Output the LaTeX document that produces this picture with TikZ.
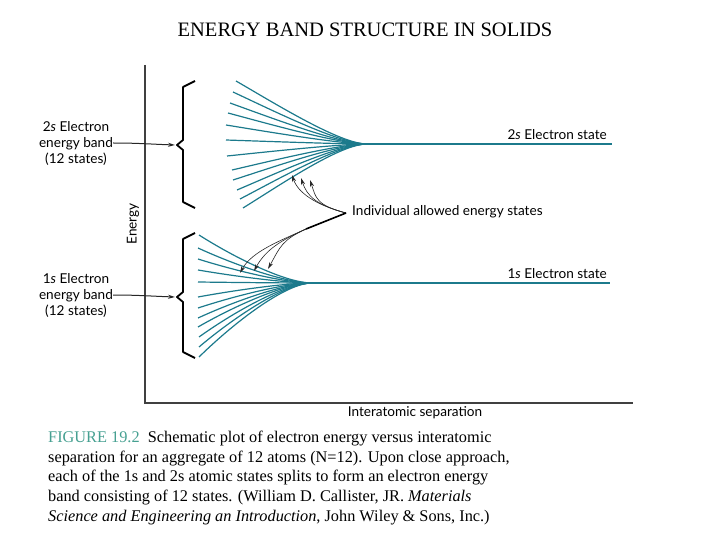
\documentclass[tikz,border=0pt]{standalone}
\usepackage{fontspec}
\setmainfont{Liberation Serif}
\setsansfont{Lato}
\usetikzlibrary{arrows.meta}
\definecolor{bandteal}{RGB}{28,122,140}
\definecolor{figgreen}{RGB}{70,160,145}

\begin{document}
\begin{tikzpicture}[
        x=1pt, y=-1pt,
        every node/.style = {
            inner sep=0pt,
            font=\sffamily\fontsize{13.6}{16}\selectfont
        },
        band/.style = {draw=bandteal, line width=1.2pt},
        bracket/.style = {draw=black, line width=1.8pt, line join=round},
        axis/.style = {draw=black!75, line width=1.2pt},
        pointer/.style = {-{Stealth[length=7pt,width=4pt]}, draw=black!85, line width=0.6pt},
        feeder/.style = {draw=black, line width=1.6pt},
        caption/.style = {anchor=north west, align=left, font=\fontsize{16.3}{19.6}\selectfont}
    ]
    \useasboundingbox (0,0) rectangle (720,540);

    % Title
    \node[font=\fontsize{20.5}{24}\selectfont] (title) at (365,30) {ENERGY BAND STRUCTURE IN SOLIDS};

    % Axes
    \coordinate (top) at (145,65);
    \coordinate (origin) at (145,403);
    \coordinate (right) at (633,403);
    \draw[axis] (top) -- (origin) -- (right);
    \node[rotate=90] (ylabel) at (133,224) {Energy};
    \node (xlabel) at (415,413) {Interatomic separation};

    % 2s band: 12 levels merging into one state
    \coordinate (join2) at (367,144);
    \coordinate (end2) at (612,144);
    \foreach \xa/\ya in {236/81, 233/92, 230/103, 228/113, 226/125, 226/140,
                         227/156, 232/170, 233/180, 237/190, 240/199, 243/208}
        \draw[band] (\xa,\ya) .. controls ({\xa+0.3*(367-\xa)},{\ya+0.36*(144-\ya)}) and (340,144) .. (join2);
    \draw[band] (join2) -- (end2);
    \node[anchor=south east] (state2) at (607,140) {2\textit{s} Electron state};

    % 1s band
    \coordinate (join1) at (312,283);
    \coordinate (end1) at (610,283);
    \foreach \xa/\ya in {199/235, 198/248, 198/259, 198/270, 198/282, 198/297,
                         198/308, 198/318, 198/327, 199/337, 199/347, 199/357}
        \draw[band] (\xa,\ya) .. controls ({\xa+0.3*(312-\xa)},{\ya+0.45*(283-\ya)}) and (285,283) .. (join1);
    \draw[band] (join1) -- (end1);
    \node[anchor=south east] (state1) at (607,279) {1\textit{s} Electron state};

    % Braces
    \draw[bracket] (195,81) -- (183,87) -- (183,140) -- (177,145) -- (183,150) -- (183,202) -- (195,208);
    \draw[bracket] (195,233) -- (183,239) -- (183,292) -- (177,297) -- (183,302) -- (183,352) -- (195,358);
    \coordinate (tip2) at (175,145);
    \coordinate (tip1) at (175,297);

    % Band labels
    \node[align=center] (band2) at (76,143) {2\textit{s} Electron\\energy band\\(12 states)};
    \node[align=center] (band1) at (76,295) {1\textit{s} Electron\\energy band\\(12 states)};
    \draw[pointer, line width=1pt] (band2.east) to[out=0, in=178] (tip2);
    \draw[pointer, line width=1pt] (band1.east) to[out=0, in=178] (tip1);

    % Individual states
    \node[anchor=west] (states) at (352,212) {Individual allowed energy states};
    \coordinate (hub) at (346,213);
    \coordinate (fork) at (306,229);
    \foreach \tx/\ty in {292/175, 301/178, 310/180}
        \draw[pointer] (hub) .. controls (316,205) and ({\tx+6},{\ty+18}) .. (\tx,\ty);
    \draw[feeder] (hub) -- (fork);
    \foreach \tx/\ty in {240/273, 254/271, 268/269}
        \draw[pointer] (fork) .. controls (282,240) and ({\tx+12},{\ty-22}) .. (\tx,\ty);

    % Caption
    \node[caption] (cap) at (48,431) {\textcolor{figgreen}{FIGURE 19.2}\enspace Schematic plot of electron energy versus interatomic\\
        separation for an aggregate of 12 atoms (N=12). Upon close approach,\\
        each of the 1s and 2s atomic states splits to form an electron energy\\
        band consisting of 12 states. (William D. Callister, JR. \textit{Materials}\\
        \textit{Science and Engineering an Introduction}, John Wiley \& Sons, Inc.)};

\end{tikzpicture}
\end{document}
